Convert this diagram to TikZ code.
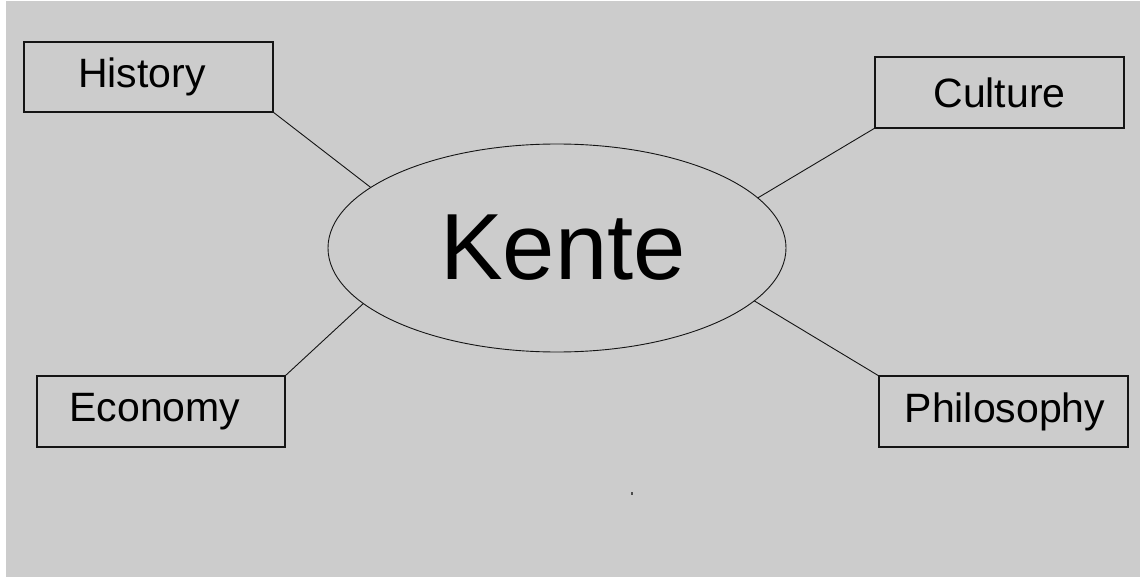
\documentclass[tikz,border=0pt]{standalone}
\usepackage{fontspec}
\setmainfont{Liberation Sans}
\usetikzlibrary{shapes.geometric}
\definecolor{canvas}{RGB}{204,204,204}
\definecolor{ink}{RGB}{20,20,20}
\tikzset{
  topicbox/.style={draw=ink, line width=1.2pt, rectangle, inner sep=0pt, outer sep=0pt,
    minimum width=249pt, minimum height=70pt, font=\fontsize{41}{48}\selectfont},
  hub/.style={draw=ink, line width=0.9pt, ellipse, inner sep=0pt, outer sep=0pt,
    minimum width=458pt, minimum height=208pt, font=\fontsize{94}{110}\selectfont},
  spoke/.style={draw=ink, line width=0.9pt}
}
\begin{document}
\begin{tikzpicture}[x=1pt, y=-1pt]
  % canvas
  \fill[white] (0,0) rectangle (1140,577);
  \fill[canvas] (6,1) rectangle (1140,577);
  \useasboundingbox (0,0) rectangle (1140,577);

  % central topic
  \node[hub] (kente) at (557,248) {\hspace*{12pt}\raisebox{-2pt}{Kente}};

  % surrounding topics
  \node[topicbox] (history) at (148.5,77) {\hspace*{-13pt}\raisebox{-2pt}{History}};
  \node[topicbox, minimum height=71pt] (culture) at (999.5,92.5) {Culture};
  \node[topicbox, minimum width=248pt, minimum height=71pt] (economy) at (161,411.5) {\hspace*{-12pt}Economy};
  \node[topicbox, minimum height=71pt] (philosophy) at (1003.5,411.5) {\hspace*{3pt}Philosophy};

  % spokes
  \draw[spoke] (history.south east) -- (kente.162.8);
  \draw[spoke] (culture.south west) -- (kente.14.4);
  \draw[spoke] (economy.north east) -- (kente.196.2);
  \draw[spoke] (philosophy.north west) -- (kente.345.8);

  % small speck
  \fill[black!70] (631,491.5) rectangle (633,494.5);
\end{tikzpicture}
\end{document}
